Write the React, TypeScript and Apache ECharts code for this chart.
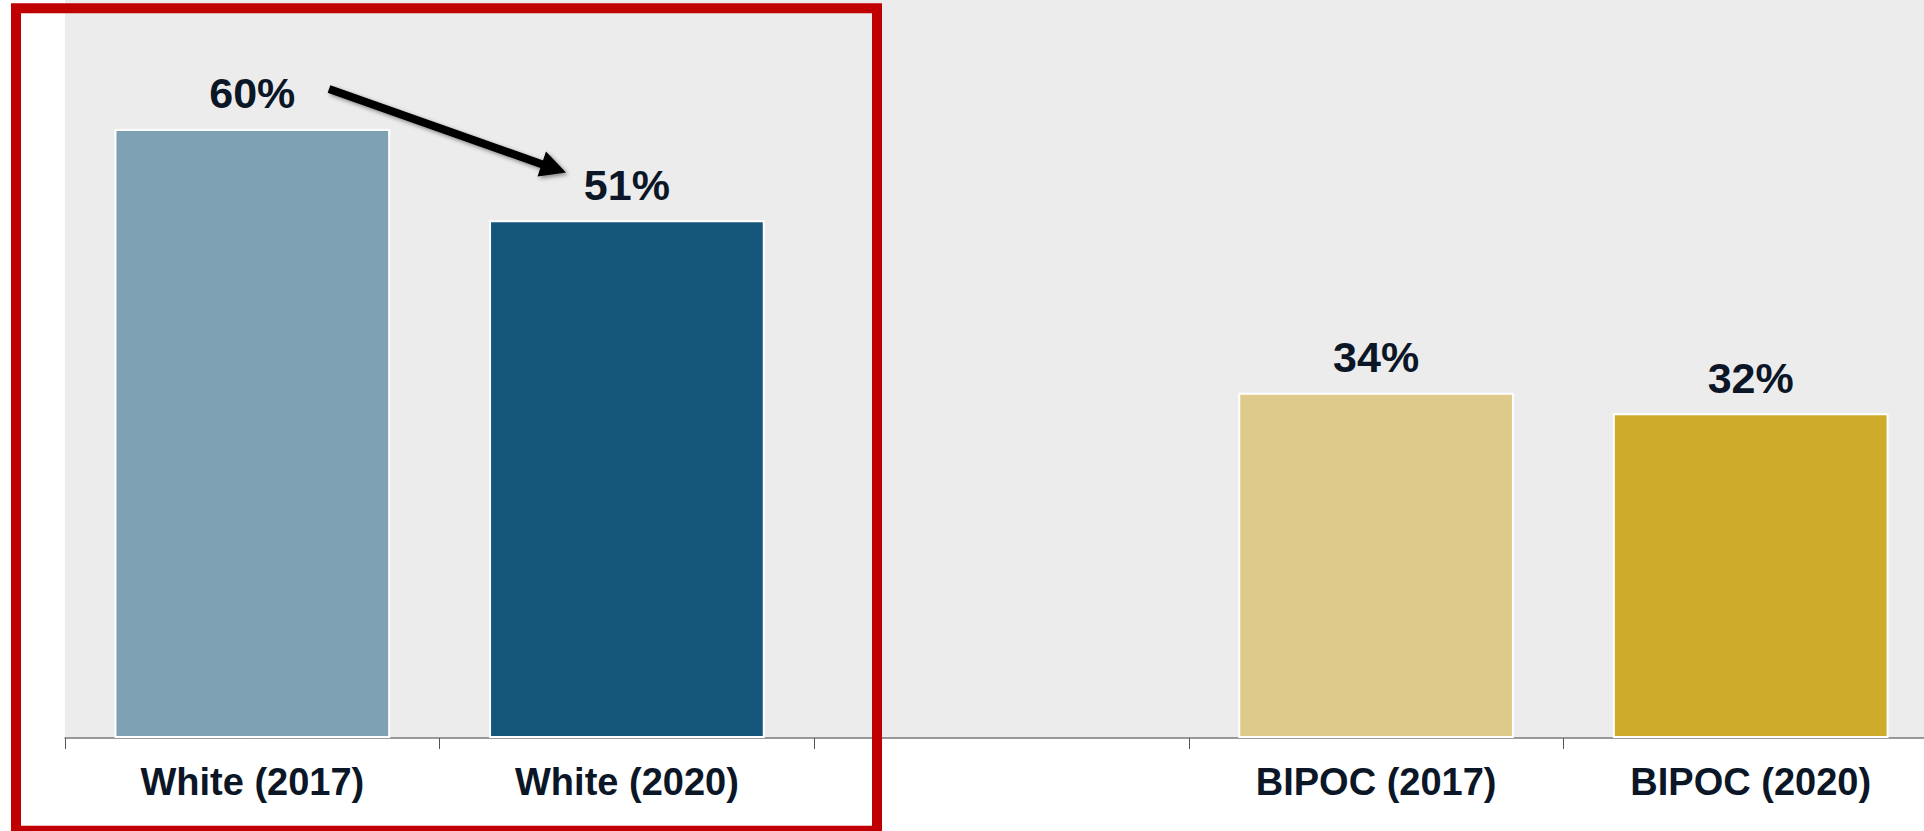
import React, { useEffect, useRef } from "react";
import * as echarts from "echarts";

const categories = ["White (2017)", "White (2020)", "", "BIPOC (2017)", "BIPOC (2020)"];
const values: (number | null)[] = [60, 51, null, 34, 32];
const barColors = ["#7fa1b4", "#14577b", "#ffffff", "#decb8c", "#cdab2b"];

const TEXT_COLOR = "#0b1626";
const FONT = "'Liberation Sans', Arial, Helvetica, sans-serif";

export default function App() {
  const ref = useRef<HTMLDivElement>(null);

  useEffect(() => {
    if (!ref.current) return;
    const chart = echarts.init(ref.current, null, { renderer: "svg" });

    const data = values.map((v, i) =>
      v === null
        ? "-"
        : {
            value: v,
            itemStyle: { color: barColors[i] },
          }
    );

    const shadow = {
      shadowBlur: 4,
      shadowColor: "rgba(0,0,0,0.45)",
      shadowOffsetX: 2,
      shadowOffsetY: 2,
    };

    chart.setOption({
      animation: false,
      backgroundColor: "#ffffff",
      grid: {
        left: 65,
        right: 0,
        top: 0,
        bottom: 93,
        show: true,
        backgroundColor: "#ececec",
        borderWidth: 0,
      },
      xAxis: {
        type: "category",
        data: categories,
        boundaryGap: true,
        axisLine: { show: true, lineStyle: { color: "#7a7a7a", width: 1.5 } },
        axisTick: {
          show: true,
          length: 11,
          alignWithLabel: false,
          lineStyle: { color: "#555555", width: 1 },
        },
        axisLabel: {
          interval: 0,
          margin: 25,
          color: TEXT_COLOR,
          fontFamily: FONT,
          fontWeight: "bold",
          fontSize: 38,
        },
        splitLine: { show: false },
      },
      yAxis: {
        type: "value",
        min: 0,
        max: 72.7,
        show: false,
        splitLine: { show: false },
      },
      series: [
        {
          type: "bar",
          data,
          barWidth: "73.6%",
          itemStyle: { borderColor: "#ffffff", borderWidth: 2 },
          label: {
            show: true,
            position: "top",
            distance: 14,
            formatter: (p: any) => `${p.value}%`,
            color: TEXT_COLOR,
            fontFamily: FONT,
            fontWeight: "bold",
            fontSize: 43,
          },
        },
      ],
      graphic: [
        {
          type: "group",
          z: 100,
          children: [
            {
              type: "line",
              shape: { x1: 329, y1: 89, x2: 544, y2: 165 },
              style: { stroke: "#000000", lineWidth: 8, ...shadow },
            },
            {
              type: "polygon",
              shape: {
                points: [
                  [566, 172.5],
                  [537.5, 176.5],
                  [546, 151.5],
                ],
              },
              style: { fill: "#000000", ...shadow },
            },
          ],
        },
        {
          type: "rect",
          z: 110,
          shape: { x: 16, y: 8.3, width: 861, height: 822.4 },
          style: { fill: "none", stroke: "#c00000", lineWidth: 10 },
        },
      ],
    });

    return () => chart.dispose();
  }, []);

  return (
    <div
      style={{
        position: "fixed",
        left: 0,
        top: 0,
        width: "1924px",
        height: "831px",
        overflow: "hidden",
      }}
    >
      <div ref={ref} style={{ width: "1938px", height: "831px" }} />
    </div>
  );
}
